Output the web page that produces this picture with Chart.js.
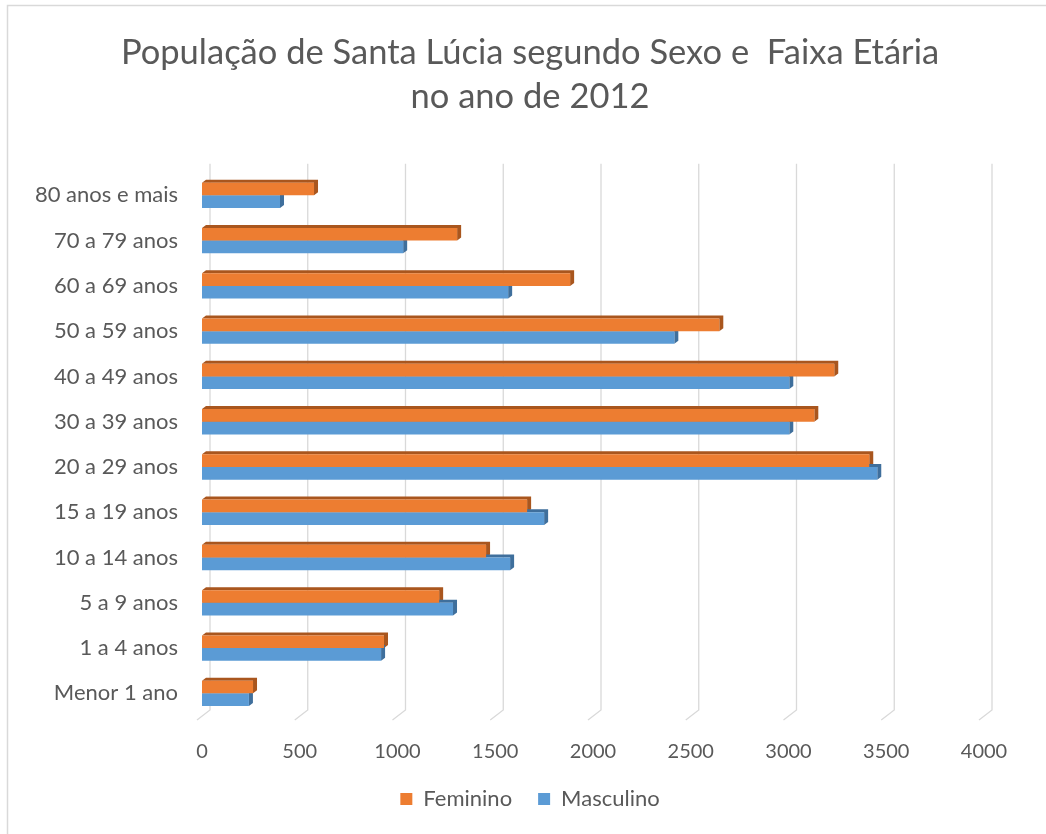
<!DOCTYPE html>
<html>
<head>
<meta charset="utf-8">
<script src="https://cdn.jsdelivr.net/npm/chart.js@4/dist/chart.umd.min.js"></script>
<style>
  html, body { margin: 0; padding: 0; background: #fff; }
  #wrap { width: 1046px; height: 834px; position: relative; }
</style>
</head>
<body>
<div id="wrap"><canvas id="myChart"></canvas></div>
<script>
const ageGroups = [
  "80 anos e mais", "70 a 79 anos", "60 a 69 anos", "50 a 59 anos",
  "40 a 49 anos", "30 a 39 anos", "20 a 29 anos", "15 a 19 anos",
  "10 a 14 anos", "5 a 9 anos", "1 a 4 anos", "Menor 1 ano"
];
const feminino = [573, 1305, 1883, 2646, 3234, 3132, 3413, 1663, 1453, 1213, 931, 261];
const masculino = [399, 1029, 1566, 2416, 3004, 3004, 3454, 1750, 1576, 1284, 916, 240];
const titleLines = ["População de Santa Lúcia segundo Sexo e  Faixa Etária", "no ano de 2012"];

const textColor = "#595959";
const faceColors = ["#ED7D31", "#5B9BD5"];
const sideColors = ["#A9561E", "#3F6F9C"];

// back wall grid, floor lines and bar extrusions (fake 3d look)
const depth3d = {
  id: "depth3d",
  beforeDraw(chart) {
    const ctx = chart.ctx;
    ctx.save();
    ctx.strokeStyle = "#d9d9d9";
    ctx.lineWidth = 1.5;
    ctx.beginPath();
    ctx.moveTo(7.5, chart.height);
    ctx.lineTo(7.5, 5.5);
    ctx.lineTo(chart.width, 5.5);
    ctx.stroke();
    ctx.restore();
  },
  beforeDatasetsDraw(chart) {
    const ctx = chart.ctx;
    const x = chart.scales.x;
    const a = chart.chartArea;
    ctx.save();
    ctx.strokeStyle = "#d9d9d9";
    ctx.lineWidth = 1.3;
    x.ticks.forEach((t) => {
      const px = x.getPixelForValue(t.value);
      ctx.beginPath();
      ctx.moveTo(px + 8, a.top - 9);
      ctx.lineTo(px + 8, a.bottom - 6);
      ctx.lineTo(px - 5, a.bottom + 4);
      ctx.stroke();
    });
    chart.data.datasets.forEach((ds, i) => {
      const meta = chart.getDatasetMeta(i);
      meta.data.forEach((bar) => {
        const p = bar.getProps(["x", "y", "base", "height"], true);
        const top = p.y - p.height / 2;
        const bot = p.y + p.height / 2;
        ctx.fillStyle = sideColors[i];
        ctx.beginPath();
        ctx.moveTo(p.base, top);
        ctx.lineTo(p.base + 4, top - 3);
        ctx.lineTo(p.x + 4, top - 3);
        ctx.lineTo(p.x + 4, bot - 3);
        ctx.lineTo(p.x, bot);
        ctx.lineTo(p.x, top);
        ctx.closePath();
        ctx.fill();
      });
    });
    ctx.restore();
  }
};

const myChart = document.getElementById("myChart").getContext("2d");

const barChart = new Chart(myChart, {
  type: "bar",
  data: {
    labels: ageGroups,
    datasets: [
      { label: "Feminino", data: feminino, backgroundColor: faceColors[0] },
      { label: "Masculino", data: masculino, backgroundColor: faceColors[1] }
    ]
  },
  options: {
    indexAxis: "y",
    responsive: true,
    maintainAspectRatio: false,
    animation: false,
    datasets: {
      bar: { categoryPercentage: 0.56, barPercentage: 1.0 }
    },
    layout: {
      padding: { left: 14, right: 0, top: 0, bottom: 14 }
    },
    plugins: {
      title: {
        display: true,
        text: titleLines,
        color: textColor,
        font: { family: "Lato", size: 34.5, weight: "normal", lineHeight: 1.3 },
        padding: { top: 30, bottom: 53 }
      },
      legend: {
        position: "bottom",
        labels: {
          color: textColor,
          font: { family: "Lato", size: 22 },
          boxWidth: 12,
          boxHeight: 12,
          padding: 26
        }
      },
      tooltip: { enabled: false }
    },
    scales: {
      x: {
        min: 0,
        max: 4000,
        ticks: {
          stepSize: 500,
          color: textColor,
          font: { family: "Lato", size: 20 },
          padding: 16,
          callback: (v) => String(v)
        },
        grid: { display: false },
        border: { display: false },
        afterFit: (s) => { s.height = 46; }
      },
      y: {
        ticks: {
          color: textColor,
          font: { family: "Lato", size: 22 },
          padding: 16
        },
        grid: { display: false },
        border: { display: false },
        afterFit: (s) => { s.width = 188; }
      },
      yRight: {
        type: "linear",
        axis: "y",
        position: "right",
        ticks: { display: false },
        grid: { display: false },
        border: { display: false },
        afterFit: (s) => { s.width = 62; }
      }
    }
  },
  plugins: [depth3d]
});
</script>
</body>
</html>
